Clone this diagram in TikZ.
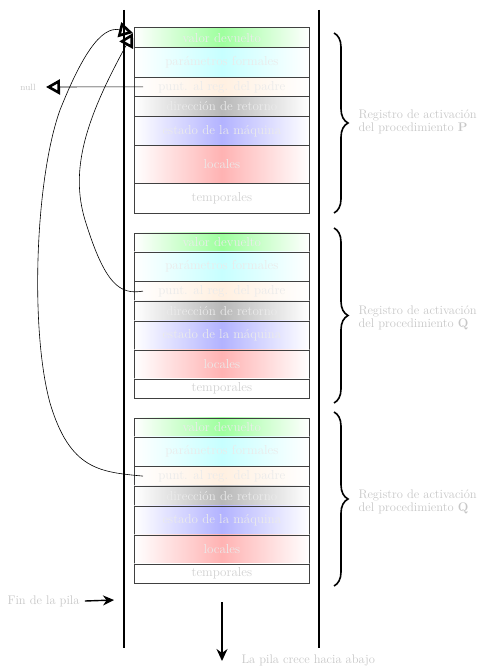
\documentclass[tikz,border=0pt]{standalone}
\usetikzlibrary{arrows.meta,decorations.pathreplacing}
\begin{document}
\begin{tikzpicture}[x=1pt,y=-1pt,
  rowbox/.style={draw=black!75,line width=0.7pt,left color=white,right color=white},
  rowtext/.style={text=black!8,font=\fontsize{13}{14}\selectfont},
  sidelabel/.style={text=black!22,font=\fontsize{12.5}{13.5}\selectfont,align=left,anchor=west},
  wall/.style={line width=2.4pt},
  link/.style={line width=0.6pt,-{Triangle[open,length=14pt,width=15pt,line width=2.6pt]}},
  bracebig/.style={decorate,decoration={brace,amplitude=14pt},line width=1.6pt}]
\useasboundingbox (0,0) rectangle (484,668);

% stack walls
\draw[wall] (124,10) -- (124,648);
\draw[wall] (319,10) -- (319,648);

% one activation record: #1 = name prefix, #2..#9 = row boundaries
\newcommand{\actrec}[9]{%
  \node[rowbox,middle color=green!38,minimum width=175pt,minimum height={(#3-#2)*1pt},inner sep=0pt,anchor=north west,rowtext] (#1v) at (134,#2) {valor devuelto};
  \node[rowbox,middle color=cyan!22,minimum width=175pt,minimum height={(#4-#3)*1pt},inner sep=0pt,anchor=north west,rowtext] (#1f) at (134,#3) {\raisebox{-4pt}{parámetros formales}};
  \node[rowbox,middle color=orange!12,minimum width=175pt,minimum height={(#5-#4)*1pt},inner sep=0pt,anchor=north west,rowtext] (#1p) at (134,#4) {punt. al reg. del padre};
  \node[rowbox,middle color=black!28,minimum width=175pt,minimum height={(#6-#5)*1pt},inner sep=0pt,anchor=north west,rowtext] (#1d) at (134,#5) {dirección de retorno};
  \node[rowbox,middle color=blue!30,minimum width=175pt,minimum height={(#7-#6)*1pt},inner sep=0pt,anchor=north west,rowtext] (#1e) at (134,#6) {\raisebox{-2pt}{estado de la máquina}};
  \node[rowbox,middle color=red!30,minimum width=175pt,minimum height={(#8-#7)*1pt},inner sep=0pt,anchor=north west,rowtext] (#1l) at (134,#7) {\raisebox{-2pt}{locales}};
  \node[rowbox,middle color=white,minimum width=175pt,minimum height={(#9-#8)*1pt},inner sep=0pt,anchor=north west,rowtext,text=black!18] (#1t) at (134,#8) {\raisebox{-3pt}{temporales}};
}

\actrec{a}{27.5}{47}{77}{96}{116}{145}{183}{212.5}
\actrec{b}{232.5}{251.5}{281}{300.5}{320.5}{349.5}{378.5}{397.5}
\actrec{c}{417.5}{436.5}{466}{485.5}{505.5}{534.5}{563.5}{582.5}

% braces and record labels
\draw[bracebig] (334,33) -- (334,213);
\draw[bracebig] (334,228) -- (334,403);
\draw[bracebig] (334,412) -- (334,586);
\node[sidelabel] (la) at (355,122) {Registro de activación\\del procedimiento \textbf{P}};
\node[sidelabel] (lb) at (355,318) {Registro de activación\\del procedimiento \textbf{Q}};
\node[sidelabel] (lc) at (355,502) {Registro de activación\\del procedimiento \textbf{Q}};

% access links
\node[text=black!22,font=\fontsize{9}{10}\selectfont] (nul) at (28,87) {null};
\coordinate (ptop) at (133,33);
\coordinate (anull) at (46,87);
\draw[link] ([xshift=9pt]ap.west) -- (anull);
\draw[link] ([xshift=9pt]bp.west) .. controls (120,295) and (105,285) .. (85,220)
  .. controls (70,170) and (85,120) .. (ptop);
\draw[link] ([xshift=9pt]cp.west) .. controls (100,472) and (70,470) .. (50,403)
  .. controls (30,330) and (35,180) .. (60,110)
  .. controls (80,60) and (100,25) .. (ptop);

% stack end and growth direction
\node[text=black!22,font=\fontsize{12.5}{13.5}\selectfont,anchor=west] (fin) at (4,601) {Fin de la pila};
\coordinate (finend) at (114,600);
\draw[line width=1.4pt,-{Stealth[length=11pt,width=10pt]}] ([xshift=2pt]fin.east) -- (finend);
\coordinate (gtop) at (222,602);
\coordinate (gbot) at (222,661);
\draw[line width=1.4pt,-{Stealth[length=12pt,width=11pt]}] (gtop) -- (gbot);
\node[text=black!22,font=\fontsize{12.5}{13.5}\selectfont,anchor=west] (crece) at (238,660) {La pila crece hacia abajo};
\end{tikzpicture}
\end{document}
